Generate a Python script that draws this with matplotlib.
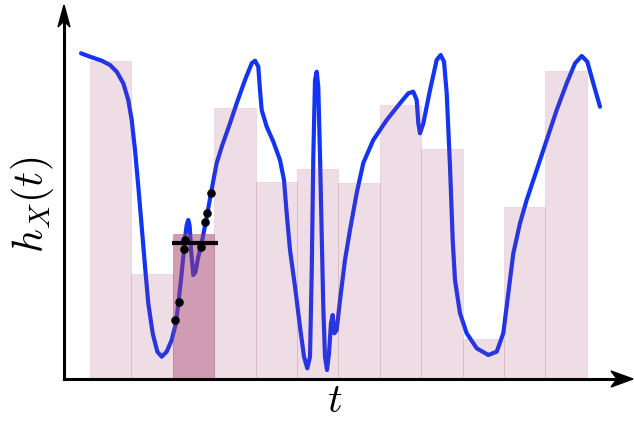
import numpy as np
import matplotlib
matplotlib.use("Agg")
import matplotlib.pyplot as plt
from matplotlib.patches import Polygon

plt.rcParams['mathtext.fontset'] = 'cm'

# histogram bars (bin i spans [i, i+1])
bar_left = [1, 2, 3, 4, 5, 6, 7, 8, 9, 10, 11, 12]
bar_height = [3.18, 1.05, 1.45, 2.71, 1.97, 2.10, 1.96, 2.74, 2.30, 0.40, 1.72, 3.08]
highlight_bar = 2

# signal curve h_X(t)
curve_t = [0.783, 1.000, 1.283, 1.483, 1.645, 1.804, 1.925, 2.007, 2.087, 2.167,
           2.249, 2.329, 2.408, 2.514, 2.626, 2.732, 2.853, 2.973, 3.077, 3.138,
           3.198, 3.246, 3.295, 3.336, 3.374, 3.408, 3.440, 3.495, 3.548, 3.609,
           3.698, 3.819, 3.923, 4.060, 4.188, 4.382, 4.543, 4.744, 4.906, 4.986,
           5.065, 5.106, 5.147, 5.268, 5.428, 5.589, 5.686, 5.751, 5.831, 5.952,
           6.072, 6.169, 6.249, 6.314, 6.355, 6.394, 6.435, 6.476, 6.514, 6.556,
           6.635, 6.676, 6.725, 6.773, 6.821, 6.862, 6.901, 6.959, 7.039, 7.159,
           7.280, 7.442, 7.601, 7.843, 8.167, 8.488, 8.688, 8.809, 8.891, 8.930,
           8.971, 9.051, 9.213, 9.374, 9.471, 9.551, 9.616, 9.696, 9.761, 9.816,
           9.937, 10.099, 10.341, 10.621, 10.824, 10.983, 11.104, 11.225, 11.386, 11.548,
           11.790, 12.031, 12.273, 12.514, 12.715, 12.877, 13.012, 13.157, 13.319]
curve_v = [3.257, 3.223, 3.183, 3.14, 3.073, 2.957, 2.79, 2.59, 2.29, 1.923,
           1.523, 1.123, 0.757, 0.457, 0.273, 0.223, 0.273, 0.39, 0.56, 0.77,
           0.99, 1.19, 1.41, 1.54, 1.59, 1.53, 1.29, 1.04, 1.07, 1.21,
           1.36, 1.62, 1.86, 2.16, 2.33, 2.557, 2.757, 2.99, 3.157, 3.183,
           3.123, 2.89, 2.69, 2.523, 2.373, 2.19, 1.99, 1.657, 1.29, 0.923,
           0.523, 0.223, 0.107, 0.223, 1.057, 2.223, 2.99, 3.073, 2.923, 2.223,
           0.723, 0.223, 0.09, 0.257, 0.557, 0.64, 0.457, 0.49, 0.79, 1.19,
           1.49, 1.86, 2.16, 2.39, 2.59, 2.757, 2.857, 2.873, 2.79, 2.557,
           2.457, 2.557, 2.89, 3.19, 3.24, 3.173, 2.857, 2.123, 1.39, 0.99,
           0.657, 0.457, 0.307, 0.24, 0.273, 0.457, 0.857, 1.257, 1.557, 1.79,
           2.09, 2.39, 2.69, 2.957, 3.157, 3.23, 3.173, 2.957, 2.723]

# sample points inside the highlighted bin
dot_t = [3.915, 3.819, 3.785, 3.295, 3.271, 3.674, 3.143, 3.060]
dot_v = [1.857, 1.657, 1.573, 1.39, 1.30, 1.323, 0.773, 0.593]

# mean level of the highlighted bin
mean_t = [2.98, 4.08]
mean_v = [1.36, 1.36]

fig = plt.figure(figsize=(6.34, 4.22), dpi=100)
ax = fig.add_axes([64/634, 43/422, 570/634, 374/422])
ax.set_xlim(0.372, 14.14)
ax.set_ylim(0, 3.74)
ax.axis('off')

base = (0.63, 0.23, 0.41)
ax.plot(curve_t, curve_v, color='#1434f5', lw=3.0, zorder=2,
        solid_capstyle='round', solid_joinstyle='round')

for i, (l, h) in enumerate(zip(bar_left, bar_height)):
    a = 0.5 if i == highlight_bar else 0.17
    ea = 0.35 if i == highlight_bar else 0.12
    ax.bar(l, h, width=1.0, align='edge', color=base + (a,),
           edgecolor=base + (ea,), linewidth=0.7, zorder=3)

ax.plot(mean_t, mean_v, color='black', lw=3, zorder=4, solid_capstyle='butt')
ax.scatter(dot_t, dot_v, s=38, color='black', zorder=5, linewidths=0)

# axes with arrow heads
ax.plot([0, 0.985], [0, 0], transform=ax.transAxes, color='black', lw=2.2,
        clip_on=False, zorder=6)
ax.plot([0, 0], [0, 0.985], transform=ax.transAxes, color='black', lw=2.2,
        clip_on=False, zorder=6)

def head(tip, direction, length, width, notch):
    tx, ty = tip
    dx, dy = direction
    px, py = -dy, dx
    return [(tx, ty),
            (tx - dx*length + px*width/2, ty - dy*length + py*width/2),
            (tx - dx*(length - notch), ty - dy*(length - notch)),
            (tx - dx*length - px*width/2, ty - dy*length - py*width/2)]

W, H = 634, 422
xt = head((633, 422-379), (1, 0), 22, 16, 6)
yt = head((64, 422-5), (0, 1), 22, 12, 6)
for pts in (xt, yt):
    fig.patches.append(Polygon([(x/W, y/H) for x, y in pts], closed=True,
                               transform=fig.transFigure, color='black', zorder=7))

fig.text(33/634, 1-205/422, r'$h_X(t)$', rotation=90, ha='center', va='center',
         fontsize=30)
fig.text(335/634, 1-401/422, r'$t$', ha='center', va='center', fontsize=29)

fig.savefig('out.png', dpi=100)
